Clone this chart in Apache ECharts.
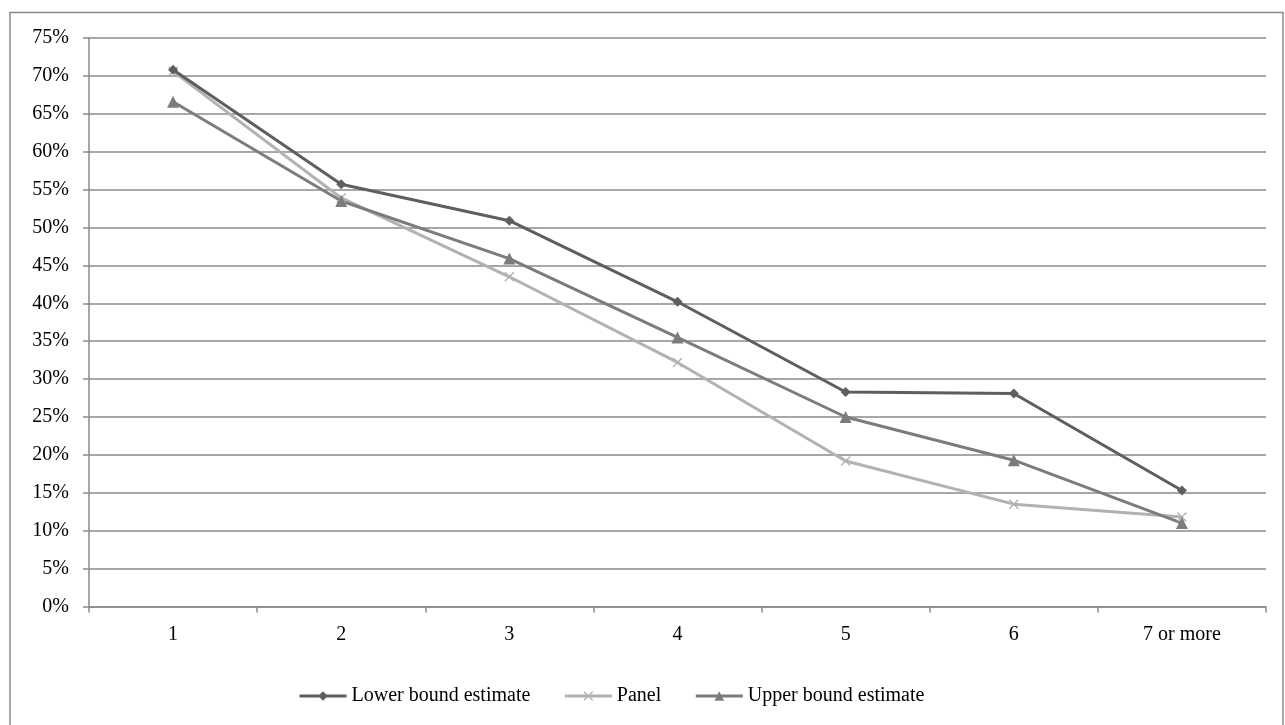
<!DOCTYPE html>
<html>
<head>
<meta charset="utf-8">
<script src="https://cdn.jsdelivr.net/npm/echarts@6/dist/echarts.min.js"></script>
<style>
html,body{margin:0;padding:0;background:#fff;}
#c{width:1285px;height:725px;}
</style>
</head>
<body>
<div id="c"></div>
<script>
const categories = ['1','2','3','4','5','6','7 or more'];
const lowerBound = [0.708, 0.557, 0.509, 0.402, 0.283, 0.281, 0.153];
const panel = [0.706, 0.539, 0.435, 0.322, 0.192, 0.135, 0.118];
const upperBound = [0.666, 0.535, 0.459, 0.355, 0.250, 0.193, 0.110];
const yTicks = [0,0.05,0.1,0.15,0.2,0.25,0.3,0.35,0.4,0.45,0.5,0.55,0.6,0.65,0.7,0.75];

const FONT = 'Liberation Serif';
const crossPath = 'path://M0,1L1,0L5,4L9,0L10,1L6,5L10,9L9,10L5,6L1,10L0,9L4,5Z';

const chart = echarts.init(document.getElementById('c'));
chart.setOption({
  animation: false,
  backgroundColor: '#fff',
  textStyle: {fontFamily: FONT},
  graphic: [{
    type: 'rect',
    shape: {x: 10, y: 12.5, width: 1273, height: 730},
    style: {fill: 'none', stroke: '#8a8a8a', lineWidth: 1.5},
    silent: true
  }],
  grid: {left: 89, right: 19, top: 38, bottom: 118.5, containLabel: false},
  legend: {
    left: 293, top: 681,
    itemWidth: 47, itemHeight: 12, itemGap: 33,
    lineStyle: {width: 3},
    textStyle: {fontFamily: FONT, fontSize: 20, color: '#000'},
    data: ['Lower bound estimate','Panel','Upper bound estimate']
  },
  xAxis: {
    type: 'category',
    data: categories,
    boundaryGap: true,
    axisLine: {lineStyle: {color: '#8a8a8a', width: 1.5}},
    axisTick: {show: true, length: 6, lineStyle: {color: '#8a8a8a', width: 1.5}},
    axisLabel: {fontFamily: FONT, fontSize: 20, color: '#000', margin: 18},
    splitLine: {show: false}
  },
  yAxis: {
    type: 'value',
    min: 0, max: 0.75, interval: 0.05,
    axisLine: {show: true, lineStyle: {color: '#8a8a8a', width: 1.5}},
    axisTick: {show: true, length: 6, lineStyle: {color: '#8a8a8a', width: 1.5}},
    axisLabel: {
      fontFamily: FONT, fontSize: 20, color: '#000', margin: 20,
      formatter: v => {
        const idx = yTicks.findIndex(t => Math.abs(t - v) < 1e-9);
        return Math.round((idx >= 0 ? yTicks[idx] : v) * 100) + '%';
      }
    },
    splitLine: {show: true, lineStyle: {color: '#8a8a8a', width: 1.5}}
  },
  series: [
    {
      name: 'Lower bound estimate', type: 'line', data: lowerBound,
      symbol: 'diamond', symbolSize: 10, showAllSymbol: true,
      lineStyle: {color: '#5e5e5e', width: 3},
      itemStyle: {color: '#5e5e5e'}, z: 3
    },
    {
      name: 'Panel', type: 'line', data: panel,
      symbol: crossPath, symbolSize: 10, showAllSymbol: true,
      lineStyle: {color: '#b2b2b2', width: 3},
      itemStyle: {color: '#b2b2b2'}, z: 2
    },
    {
      name: 'Upper bound estimate', type: 'line', data: upperBound,
      symbol: 'triangle', symbolSize: 12, showAllSymbol: true,
      lineStyle: {color: '#7c7c7c', width: 3},
      itemStyle: {color: '#7c7c7c'}, z: 2
    }
  ]
});
</script>
</body>
</html>
